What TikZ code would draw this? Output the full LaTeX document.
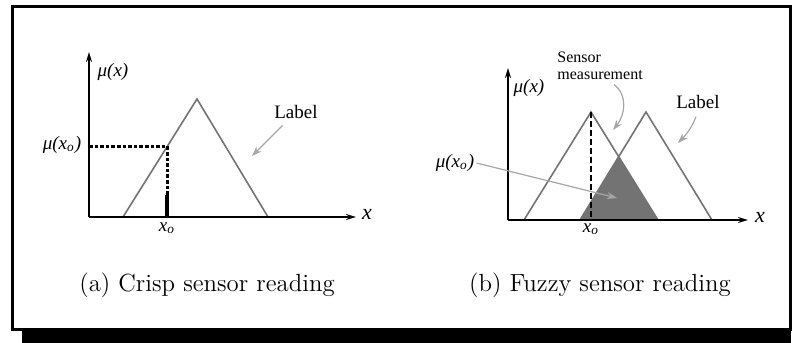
\documentclass[tikz,border=0pt]{standalone}
\usepackage{fontspec}
\newfontfamily\labfont{Liberation Serif}
\usetikzlibrary{arrows.meta,positioning,calc}

\begin{document}
\begin{tikzpicture}[
                x=0.5pt, y=-0.5pt,
                ax/.style={line width=1.1pt, -{Stealth[length=5pt,width=3pt]}},
                tri/.style={line width=0.8pt, draw=black!55},
                ptr/.style={line width=0.6pt, draw=black!35, -{Stealth[length=5pt,width=3.5pt]}},
                lab/.style={font=\labfont\fontsize{9.5}{11}\selectfont, inner sep=1pt},
                smalllab/.style={font=\labfont\fontsize{8}{8.5}\selectfont, inner sep=1pt, align=left},
                capt/.style={font=\fontsize{12.4}{15}\selectfont}
            ]

\useasboundingbox (0,0) rectangle (794,343);

% frame and shadow
                \fill[black] (22,329) rectangle (791,343);
                \draw[line width=1.5pt] (12.5,6) rectangle (790,329);

% (a) crisp reading
                \coordinate (oa) at (89,217);
                \coordinate (ya) at (89,52);
                \coordinate (xa) at (356,217);
                \coordinate (la) at (123,217);
                \coordinate (ta) at (197,99);
                \coordinate (ra) at (268,217);
                \coordinate (pa) at (167,146);
                \coordinate (qa) at (167,195);
                \coordinate (sa) at (167,217);
                \coordinate (ma) at (89,146);

                \draw[tri] (la)--(ta)--(ra);
                \draw[line width=1.5pt, dash pattern=on 1.8pt off 1pt] (ma)--(pa)--(qa);
                \draw[line width=1.6pt] (qa)--(sa);
                \draw[ax] (oa)--(ya);
                \draw[ax] (oa)--(xa);

% (b) fuzzy reading
                \coordinate (ob) at (508,220);
                \coordinate (yb) at (508,68);
                \coordinate (xb) at (748,220);
                \coordinate (l1) at (524,220);
                \coordinate (t1) at (591,112);
                \coordinate (r1) at (658,220);
                \coordinate (l2) at (580,220);
                \coordinate (t2) at (646,112);
                \coordinate (r2) at (712,220);
                \coordinate (c12) at (intersection of t1--r1 and l2--t2);
                \coordinate (sb) at (591,220);

                \fill[black!55] (l2)--(c12)--(r1)--cycle;
                \draw[tri] (l1)--(t1)--(r1);
                \draw[tri] (l2)--(t2)--(r2);
                \draw[line width=0.8pt, black!70] (l2)--(r1);
                \draw[line width=0.8pt, dash pattern=on 3pt off 1.5pt] (t1)--(sb);
                \draw[ax] (ob)--(yb);
                \draw[ax] (ob)--(xb);

% labels
                \node[lab] (mua) at (113,72) {\textit{μ(x)}};
                \node[lab] (mxa) at (62,145) {\textit{μ(x\textsubscript{o})}};
                \node[lab] (xoa) at (167,228) {\textit{x}\textsubscript{\textit{o}}};
                \node[lab, font=\labfont\fontsize{11}{12}\selectfont] (xla) at (367,214) {\textit{x}};
                \node[lab] (laba) at (296,112) {Label};
                \coordinate (laba tip) at (252,156);
                \draw[ptr, shorten <=3pt] (laba)--(laba tip);
                \node[capt] (capa) at (207,285) {(a) Crisp sensor reading};

                \node[lab] (mub) at (529,88) {\textit{μ(x)}};
                \node[lab] (mxb) at (455,163) {\textit{μ(x\textsubscript{o})}};
                \coordinate (mxb tip) at (617,198);
                \draw[ptr] (mxb.east)--(mxb tip);
                \node[smalllab, anchor=north west] (sens) at (555,50) {Sensor\\measurement};
                \coordinate (sens tip) at (613,130);
                \draw[ptr] ($(sens.south)+(14,2)$) .. controls (628,95) and (625,115) .. (sens tip);
                \node[lab] (labb) at (698,102) {Label};
                \coordinate (labb tip) at (678,143);
                \draw[ptr, shorten <=3pt] (labb.south) to[bend left=12] (labb tip);
                \node[lab] (xob) at (591,229) {\textit{x}\textsubscript{\textit{o}}};
                \node[lab, font=\labfont\fontsize{11}{12}\selectfont] (xlb) at (760,217) {\textit{x}};
                \node[capt] (capb) at (600,285) {(b) Fuzzy sensor reading};

            \end{tikzpicture}
\end{document}
